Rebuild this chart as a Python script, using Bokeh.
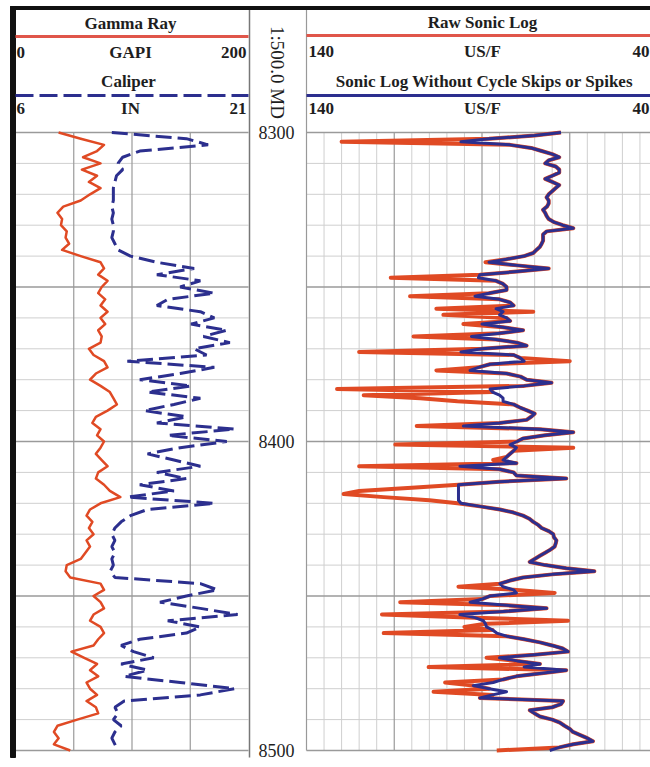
import numpy as np
from bokeh.plotting import figure
from bokeh.models import Range1d
from bokeh.core.properties import value
from bokeh.embed import file_html
from bokeh.resources import INLINE

# ---------------- data ----------------
sonic_depth = list(range(8300, 8501))
sonic_clean = [
    67.5, 75, 88, 96, 82, 76, 73, 70, 68, 71,
    72, 69, 68, 68, 70, 72, 70, 68, 69, 70,
    71, 71.6, 71, 71, 71.5, 72.6, 72, 71.6, 71, 69.5,
    67, 64, 71.6, 72.6, 72.6, 72.6, 73, 73.5, 74.5, 75.4,
    78, 83, 88, 80, 71, 80, 90.6, 91, 86, 84,
    83, 83, 88, 92, 85, 82, 81, 86, 84, 85,
    83, 82, 90, 84, 78.3, 85, 93, 86, 80, 77.3,
    90, 96, 81, 79, 78, 87.7, 91, 93.4, 83, 79,
    77.3, 70.2, 78, 87.7, 87, 85, 84, 84, 81, 79.2,
    77, 75, 76, 77.3, 85, 95.3, 73.5, 64, 72, 78.3,
    80, 82, 80.2, 81, 82, 83, 84, 80.2, 96.3, 85,
    81, 80.2, 66, 85, 96.7, 96.7, 96.7, 96.7, 96.7, 96.7,
    96, 90.6, 84.9, 81, 78.3, 76.5, 75.4, 74, 73, 71,
    69.7, 69.5, 68.8, 69, 69.3, 70.5, 72, 73.5, 75, 76.4,
    72, 66, 58, 70, 78.3, 82, 84.9, 84, 81, 80.2,
    87.7, 90, 93.4, 83, 71.6, 83.9, 96.3, 92, 89.6, 89,
    88.7, 87, 85.8, 83, 78, 73.5, 70, 67, 65.5, 75,
    85, 80, 73.5, 78, 66, 73, 80.2, 84, 86.8, 92.5,
    88, 83, 87, 90.6, 66.9, 67.5, 70, 76.4, 75, 73.5,
    70, 67.8, 66.5, 65, 64.1, 62, 60, 58.4, 64, 68,
    70.7,
]
# raw sonic differs from the cleaned log only at the cycle skips / spikes
spike_depth = [8303, 8342, 8347, 8353, 8357, 8358, 8359, 8362, 8366, 8371,
               8374, 8377, 8383, 8385, 8386, 8387, 8395, 8401, 8402, 8406,
               8408, 8415, 8416, 8417, 8418, 8419, 8420, 8447, 8449, 8452,
               8456, 8458, 8460, 8462, 8470, 8473, 8478, 8481, 8500]
spike_dt = [130, 89, 116, 110.5, 103, 75.4, 101, 95.3, 109.5, 125,
            65, 103, 131.3, 123.7, 107.6, 97, 108.6, 114.7, 64, 86.8,
            125, 110, 125, 129.4, 118, 105, 97, 96.7, 69.3, 113.3,
            118.5, 65.5, 95, 118, 88.7, 105.2, 100.5, 103.8, 85.8]

gr_depth = list(range(8300, 8501, 2))
gamma_ray = [
    37, 56, 76, 70, 58, 73, 57, 70, 63, 73,
    64, 56, 41, 36, 40, 39, 44, 43, 46, 40,
    56, 73, 76, 71, 79, 74, 71, 77, 73, 79,
    73, 77, 71, 74, 73, 63, 67, 76, 79, 69,
    64, 73, 81, 84, 87, 79, 69, 66, 73, 70,
    76, 73, 69, 74, 79, 71, 69, 76, 81, 90,
    73, 64, 61, 66, 63, 67, 61, 64, 60, 56,
    44, 43, 47, 73, 76, 67, 73, 76, 67, 64,
    73, 76, 71, 67, 48, 59, 70, 64, 71, 61,
    64, 70, 61, 69, 71, 53, 36, 33, 37, 33,
    47,
]
caliper = [
    12.2, 17.0, 18.4, 14.0, 12.9, 12.6, 12.9, 12.5, 12.4, 12.3,
    12.3, 12.3, 12.2, 12.3, 12.2, 12.3, 12.3, 12.2, 12.4, 12.6,
    13.4, 15.1, 17.5, 15.1, 17.9, 16.6, 18.8, 15.8, 15.1, 17.9,
    18.8, 17.3, 19.6, 18.1, 19.8, 17.5, 18.3, 13.2, 18.8, 16.6,
    14.0, 17.3, 14.5, 17.9, 16.2, 14.3, 17.0, 15.1, 20.1, 15.8,
    19.6, 16.6, 14.5, 16.2, 17.9, 15.1, 17.0, 14.0, 16.2, 13.2,
    18.8, 14.5, 13.4, 12.8, 12.4, 12.2, 12.4, 12.2, 12.4, 12.2,
    12.3, 12.1, 12.4, 17.9, 19.0, 17.0, 15.3, 17.9, 20.3, 15.8,
    17.9, 17.0, 14.0, 12.8, 13.6, 14.9, 12.8, 14.5, 13.0, 16.6,
    20.1, 17.9, 13.0, 12.4, 12.6, 12.3, 12.8, 12.4, 12.2, 12.4,
    12.6,
]
depth_labels = [8300, 8400, 8500]
gr_scale = (0, 200)
cal_scale = (6, 21)
dt_scale = (140, 40)
depth_scale = (8300, 8500)

raw_map = dict(zip(sonic_depth, sonic_clean))
raw_map.update(zip(spike_depth, spike_dt))
sonic_raw = [raw_map[d] for d in sonic_depth]

# ---------------- layout (screen pixels) ----------------
X0, X1, Y0, Y1 = 0, 650, 0, 762
L1, R1 = 15, 248      # gamma ray / caliper track
L2, R2 = 306, 657     # sonic track
TOP, BOT = 132, 750   # depth 8300 .. 8500

def span_range(v_a, v_b, a, b, lo, hi):
    f = lambda px: v_a + (px - a) * (v_b - v_a) / (b - a)
    return Range1d(start=f(lo), end=f(hi))

p = figure(width=X1 - X0, height=Y1 - Y0,
           x_range=Range1d(X0, X1), y_range=Range1d(Y1, Y0),
           x_axis_location=None, y_axis_location=None,
           min_border=0, toolbar_location=None, output_backend="svg")
p.title.visible = False
p.outline_line_color = None
p.grid.visible = False
p.background_fill_color = "white"
p.border_fill_color = "white"

p.extra_x_ranges = {
    "gr": span_range(gr_scale[0], gr_scale[1], L1, R1, X0, X1),
    "cal": span_range(cal_scale[0], cal_scale[1], L1, R1, X0, X1),
    "dt": span_range(dt_scale[0], dt_scale[1], L2, R2, X0, X1),
}
p.extra_y_ranges = {"depth": span_range(depth_scale[0], depth_scale[1], TOP, BOT, Y1, Y0)}

FONT = value("Liberation Serif")
MINOR = "#cfcfcf"
MAJOR = "#9a9a9a"
RED = "#e04a24"
BLUE = "#2c2f8e"

# ---------------- grids ----------------
depth_minor = [d for d in range(8300, 8501, 10) if d % 50]
depth_major = list(range(8300, 8501, 50))
gr_grid = [50, 100, 150]
dt_major = [115, 90, 65, 40]
dt_minor = [v for v in range(135, 40, -5) if v not in dt_major]

kw_g = dict(y_range_name="depth")
p.segment(x0=gr_scale[0], x1=gr_scale[1], y0=depth_minor, y1=depth_minor,
          x_range_name="gr", line_color=MINOR, line_width=1, **kw_g)
p.segment(x0=dt_scale[0], x1=dt_scale[1], y0=depth_minor, y1=depth_minor,
          x_range_name="dt", line_color=MINOR, line_width=1, **kw_g)
p.segment(x0=dt_minor, x1=dt_minor, y0=8300, y1=8500,
          x_range_name="dt", line_color=MINOR, line_width=1, **kw_g)
p.segment(x0=gr_grid, x1=gr_grid, y0=8300, y1=8500,
          x_range_name="gr", line_color=MAJOR, line_width=1.2, **kw_g)
p.segment(x0=dt_major, x1=dt_major, y0=8300, y1=8500,
          x_range_name="dt", line_color=MAJOR, line_width=1.2, **kw_g)
p.segment(x0=gr_scale[0], x1=gr_scale[1], y0=depth_major, y1=depth_major,
          x_range_name="gr", line_color=MAJOR, line_width=1.4, **kw_g)
p.segment(x0=dt_scale[0], x1=dt_scale[1], y0=depth_major, y1=depth_major,
          x_range_name="dt", line_color=MAJOR, line_width=1.4, **kw_g)

# ---------------- curves ----------------
p.line(gamma_ray, gr_depth, x_range_name="gr", y_range_name="depth",
       line_color=RED, line_width=2.5, line_join="round")
p.line(caliper, gr_depth, x_range_name="cal", y_range_name="depth",
       line_color=BLUE, line_width=3, line_dash="16 6")
p.line(sonic_raw, sonic_depth, x_range_name="dt", y_range_name="depth",
       line_color=RED, line_width=4, line_join="round")
p.line(sonic_clean, sonic_depth, x_range_name="dt", y_range_name="depth",
       line_color=BLUE, line_width=3, line_join="round")

# ---------------- borders / separators ----------------
p.segment(x0=[249, 306], x1=[249, 306], y0=7, y1=[757, BOT],
          line_color=["#777777", "#999999"], line_width=[1.5, 1.2])
p.quad(left=10, right=X1, top=6, bottom=9, color="#111111")
p.quad(left=10, right=15, top=6, bottom=757, color="#111111")

# ---------------- header ----------------
hdr = dict(text_font=FONT, text_font_style="bold", text_font_size="17px",
           text_color="#1e1e1e", text_baseline="middle")
p.line([L1, R1], [36, 36], line_color="#e0564a", line_width=3)
p.line([L1, R1], [95, 95], line_color=BLUE, line_width=3, line_dash="18 6")
p.line([L2, X1], [35, 35], line_color="#e0564a", line_width=3)
p.line([L2, X1], [95, 95], line_color=BLUE, line_width=3)

p.text(x=[130, 130, 128, 130, 482, 482, 484, 482],
       y=[23, 52, 81, 108, 22, 51, 81, 108],
       text=["Gamma Ray", "GAPI", "Caliper", "IN",
             "Raw Sonic Log", "US/F", "Sonic Log Without Cycle Skips or Spikes", "US/F"],
       text_align="center", **hdr)
p.text(x=[16, 16, 308, 308], y=[52, 108, 51, 108],
       text=["0", "6", "140", "140"], text_align="left", **hdr)
p.text(x=[246, 246, 649, 649], y=[52, 108, 51, 108],
       text=["200", "21", "40", "40"], text_align="right", **hdr)

p.text(x=[277], y=[72], text=["1:500.0 MD"], angle=-np.pi / 2,
       text_align="center", text_baseline="middle", text_font=FONT,
       text_font_size="19px", text_color="#1e1e1e")

# depth labels
p.text(x=294, y=depth_labels, text=[str(d) for d in depth_labels],
       y_range_name="depth", text_align="right", text_baseline="middle",
       text_font=FONT, text_font_size="18px", text_color="#1e1e1e")

open("out.html", "w").write(file_html(p, INLINE))
